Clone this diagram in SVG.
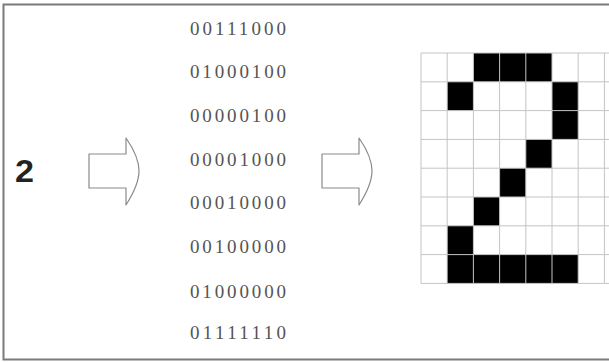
<svg xmlns="http://www.w3.org/2000/svg" width="609" height="362" viewBox="0 0 609 362">
<style>
.frame{fill:#fff;stroke:#7a7a7a;stroke-width:2}
.digit{font-family:"Liberation Sans",Arial,sans-serif;font-weight:bold;font-size:31px;fill:#222}
.bin{font-family:"Liberation Serif","Times New Roman",serif;font-size:19px;fill:#555}
.arrow{fill:#fff;stroke:#8a8a8a;stroke-width:1.2;stroke-linejoin:round}
.grid{stroke:#c4c4c4;stroke-width:1;fill:none}
.on{fill:#000}
</style>
<defs>
<path id="arr" d="M0,0 H37 V-16 C44,-6 50,6 50,17 C50,28 44,40 37,51 V34 H0 Z"/>
</defs>
<rect class="frame" x="3.5" y="4.5" width="610" height="355"/>
<g id="char">
<text class="digit" x="15" y="182" textLength="19" lengthAdjust="spacingAndGlyphs">2</text>
</g>
<g id="binary" class="bin">
<text x="190" y="35" textLength="96" lengthAdjust="spacing">00111000</text>
<text x="190" y="78" textLength="96" lengthAdjust="spacing">01000100</text>
<text x="190" y="122" textLength="96" lengthAdjust="spacing">00000100</text>
<text x="190" y="166" textLength="96" lengthAdjust="spacing">00001000</text>
<text x="190" y="209" textLength="96" lengthAdjust="spacing">00010000</text>
<text x="190" y="253" textLength="96" lengthAdjust="spacing">00100000</text>
<text x="190" y="298" textLength="96" lengthAdjust="spacing">01000000</text>
<text x="190" y="339" textLength="96" lengthAdjust="spacing">01111110</text>
</g>
<g id="bitmap">
<rect fill="#fff" x="421" y="53" width="188" height="230.4"/>
<g class="on">
<rect x="473.4" y="53" width="78.6" height="28.8"/>
<rect x="447.2" y="81.8" width="26.2" height="28.8"/>
<rect x="552" y="81.8" width="26.2" height="57.6"/>
<rect x="525.8" y="139.4" width="26.2" height="28.8"/>
<rect x="499.6" y="168.2" width="26.2" height="28.8"/>
<rect x="473.4" y="197" width="26.2" height="28.8"/>
<rect x="447.2" y="225.8" width="26.2" height="57.6"/>
<rect x="447.2" y="254.6" width="131" height="28.8"/>
</g>
<path class="grid" d="M421,53V283.4M447.2,53V283.4M473.4,53V283.4M499.6,53V283.4M525.8,53V283.4M552,53V283.4M578.2,53V283.4M604.4,53V283.4M421,53H609M421,81.8H609M421,110.6H609M421,139.4H609M421,168.2H609M421,197H609M421,225.8H609M421,254.6H609M421,283.4H609"/>
</g>
<g id="connectors">
<use href="#arr" class="arrow" transform="translate(89,154)"/>
<use href="#arr" class="arrow" transform="translate(322,154)"/>
</g>
</svg>
